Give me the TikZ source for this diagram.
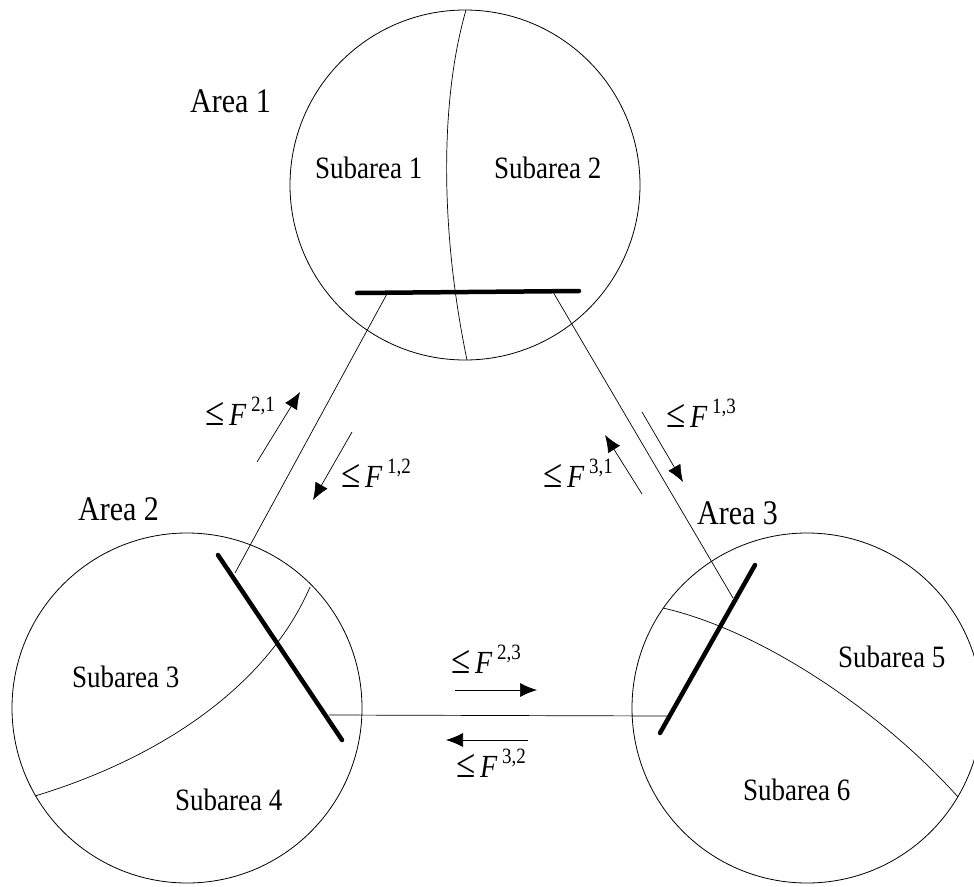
\documentclass[tikz,border=0pt]{standalone}
\usepackage{fontspec}
\usepackage{graphicx}
\setmainfont{Liberation Serif}
\usetikzlibrary{arrows.meta}

\tikzset{
    area/.style={circle, draw, line width=0.8pt, minimum size=350pt, inner sep=0pt},
    bar/.style={line width=4.5pt, line cap=round},
    tieline/.style={line width=0.7pt},
    flow/.style={line width=0.7pt, -{Latex[length=17pt,width=14pt]}},
    arealabel/.style={inner sep=0pt, anchor=base west, font=\fontsize{30}{32}\selectfont},
    sublabel/.style={inner sep=0pt, anchor=base west, font=\fontsize{27}{29}\selectfont},
    flowlabel/.style={inner sep=0pt, anchor=base west, font=\fontsize{28}{30}\selectfont}
}
\newcommand{\tall}[1]{\scalebox{1}[1.15]{#1}}
\newcommand{\flowlim}[1]{\tall{\scalebox{1.25}{≤}\,\textit{F}\,\raisebox{0.42em}{\fontsize{19}{19}\selectfont #1}}}

\begin{document}
\begin{tikzpicture}[x=1pt, y=-1pt]
    \useasboundingbox (0,0) rectangle (974,886);

    % areas
    \node[area] (area1) at (465,185) {};
    \node[area] (area2) at (187,708) {};
    \node[area] (area3) at (807,708) {};

    % subarea borders
    \draw[line width=0.7pt] (466,10) .. controls (440,100) and (440,230) .. (467,360);
    \draw[line width=0.7pt] (310,587) .. controls (270,680) and (170,755) .. (35,796);
    \draw[line width=0.7pt] (663,608) .. controls (760,630) and (880,710) .. (958,797);

    % buses
    \coordinate (bus1w) at (357,293);
    \coordinate (bus1e) at (579,291);
    \coordinate (bus2n) at (218,555);
    \coordinate (bus2s) at (342,740);
    \coordinate (bus3n) at (755,565);
    \coordinate (bus3s) at (660,733);
    \draw[bar] (bus1w) -- (bus1e);
    \draw[bar] (bus2n) -- (bus2s);
    \draw[bar] (bus3n) -- (bus3s);

    % tie lines
    \coordinate (tie12a) at (388,292);
    \coordinate (tie12b) at (235,573);
    \coordinate (tie13a) at (553,292);
    \coordinate (tie13b) at (733,598);
    \coordinate (tie23a) at (329,715);
    \coordinate (tie23b) at (668,716);
    \draw[tieline] (tie12a) -- (tie12b);
    \draw[tieline] (tie13a) -- (tie13b);
    \draw[tieline] (tie23a) -- (tie23b);

    % flow limits
    \draw[flow] (257,462) -- (300,392);
    \draw[flow] (352,432) -- (313,500);
    \draw[flow] (642,494) -- (605,435);
    \draw[flow] (642,412) -- (683,482);
    \draw[flow] (455,690) -- (537,690);
    \draw[flow] (528,740) -- (446,740);

    \node[flowlabel] (lim21) at (205,425) {\flowlim{2,1}};
    \node[flowlabel] (lim12) at (341,487) {\flowlim{1,2}};
    \node[flowlabel] (lim31) at (543,487) {\flowlim{3,1}};
    \node[flowlabel] (lim13) at (666,427) {\flowlim{1,3}};
    \node[flowlabel] (lim23) at (451,673) {\flowlim{2,3}};
    \node[flowlabel] (lim32) at (456,777) {\flowlim{3,2}};

    % labels
    \node[arealabel] (name1) at (190,112) {\tall{Area 1}};
    \node[arealabel] (name2) at (78,520) {\tall{Area 2}};
    \node[arealabel] (name3) at (697,524) {\tall{Area 3}};

    \node[sublabel] (sub1) at (315,178) {\tall{Subarea 1}};
    \node[sublabel] (sub2) at (494,178) {\tall{Subarea 2}};
    \node[sublabel] (sub3) at (72,687) {\tall{Subarea 3}};
    \node[sublabel] (sub4) at (175,810) {\tall{Subarea 4}};
    \node[sublabel] (sub5) at (838,667) {\tall{Subarea 5}};
    \node[sublabel] (sub6) at (743,800) {\tall{Subarea 6}};
\end{tikzpicture}
\end{document}
